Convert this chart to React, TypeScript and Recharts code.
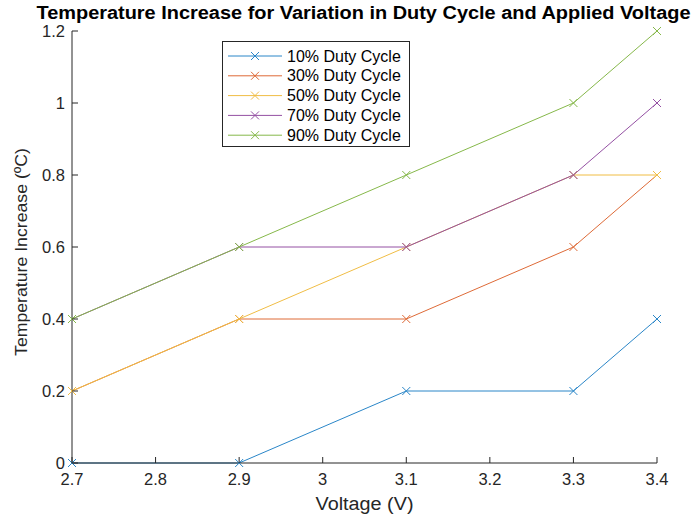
import { LineChart, Line, XAxis, YAxis, Legend } from "recharts";

const voltage = [2.7, 2.9, 3.1, 3.3, 3.4];
const duty10 = [0, 0, 0.2, 0.2, 0.4];
const duty30 = [0.2, 0.4, 0.4, 0.6, 0.8];
const duty50 = [0.2, 0.4, 0.6, 0.8, 0.8];
const duty70 = [0.4, 0.6, 0.6, 0.8, 1.0];
const duty90 = [0.4, 0.6, 0.8, 1.0, 1.2];

const xTicks = [2.7, 2.8, 2.9, 3, 3.1, 3.2, 3.3, 3.4];
const yTicks = [0, 0.2, 0.4, 0.6, 0.8, 1, 1.2];

const seriesNames = [
  "10% Duty Cycle",
  "30% Duty Cycle",
  "50% Duty Cycle",
  "70% Duty Cycle",
  "90% Duty Cycle",
];
// slightly lighter than MATLAB defaults to mimic the thin antialiased lines
const colors = ["#2a86c8", "#de6a37", "#f0bd45", "#9450a3", "#86b84a"];
const keys = ["d10", "d30", "d50", "d70", "d90"];

const data = voltage.map((v, i) => ({
  v,
  d10: duty10[i],
  d30: duty30[i],
  d50: duty50[i],
  d70: duty70[i],
  d90: duty90[i],
}));

const FONT = "'Liberation Sans', Arial, Helvetica, sans-serif";
const AXIS = "#262626";
const X_MARGIN = 10;
const Y_MARGIN = 7;
const TICK_FONT = 16.5;

const Cross = (props: any) => {
  const { cx, cy, stroke } = props;
  if (cx == null || cy == null) return null;
  const s = 4;
  return (
    <g>
      <line x1={cx - s} y1={cy - s} x2={cx + s} y2={cy + s} stroke={stroke} strokeWidth={1} />
      <line x1={cx - s} y1={cy + s} x2={cx + s} y2={cy - s} stroke={stroke} strokeWidth={1} />
    </g>
  );
};

const BottomTick = (props: any) => {
  const { x, y, payload } = props;
  const ay = y - X_MARGIN;
  return (
    <g>
      <line x1={x} y1={ay} x2={x} y2={ay - 6} stroke={AXIS} strokeWidth={1} />
      <text x={x} y={y} dy="0.71em" textAnchor="middle" fill={AXIS} fontSize={TICK_FONT} fontFamily={FONT}>
        {String(payload.value)}
      </text>
    </g>
  );
};

const LeftTick = (props: any) => {
  const { x, y, payload } = props;
  const ax = x + Y_MARGIN;
  return (
    <g>
      <line x1={ax} y1={y} x2={ax + 6} y2={y} stroke={AXIS} strokeWidth={1} />
      <text x={x} y={y} dy="0.355em" textAnchor="end" fill={AXIS} fontSize={TICK_FONT} fontFamily={FONT}>
        {String(payload.value)}
      </text>
    </g>
  );
};

const TopTick = (props: any) => {
  const { x, y } = props;
  return <line x1={x} y1={y} x2={x} y2={y + 6} stroke={AXIS} strokeWidth={1} />;
};

const RightTick = (props: any) => {
  const { x, y } = props;
  return <line x1={x} y1={y} x2={x - 6} y2={y} stroke={AXIS} strokeWidth={1} />;
};

const LegendBox = () => (
  <svg width={188} height={106} style={{ display: "block" }}>
    <rect x={0.5} y={0.5} width={187} height={105} fill="#fff" stroke={AXIS} strokeWidth={1} />
    {seriesNames.map((name, i) => {
      const cy = 15 + i * 19.8;
      return (
        <g key={name}>
          <line x1={6} y1={cy} x2={60} y2={cy} stroke={colors[i]} strokeWidth={1} />
          <Cross cx={33} cy={cy} stroke={colors[i]} />
          <text x={65} y={cy} dy="0.355em" fontSize={16} fontFamily={FONT} fill="#000">
            {name}
          </text>
        </g>
      );
    })}
  </svg>
);

export default function App() {
  return (
    <div style={{ position: "absolute", left: 0, top: 0, width: 694, height: 517, background: "#fff", overflow: "hidden" }}>
      <div
        style={{
          position: "absolute",
          left: 0,
          width: 727,
          top: 3,
          textAlign: "center",
          fontFamily: FONT,
          fontWeight: "bold",
          fontSize: 18,
          color: "#000",
          whiteSpace: "nowrap",
          transform: "scaleX(1.107)",
          transformOrigin: "363.5px 0",
        }}
      >
        Temperature Increase for Variation in Duty Cycle and Applied Voltage
      </div>
      <LineChart
        width={694}
        height={517}
        data={data}
        margin={{ top: 31, right: 37, bottom: 24, left: 32 }}
      >
        <XAxis
          dataKey="v"
          type="number"
          domain={[2.7, 3.4]}
          ticks={xTicks}
          tickSize={0}
          tickMargin={X_MARGIN}
          tick={<BottomTick />}
          height={30}
          stroke={AXIS}
          allowDecimals
        />
        <XAxis
          xAxisId="top"
          orientation="top"
          dataKey="v"
          type="number"
          domain={[2.7, 3.4]}
          ticks={xTicks}
          tickSize={0}
          tickMargin={0}
          tick={<TopTick />}
          height={0}
          stroke="#8a8a8a"
        />
        <YAxis
          type="number"
          domain={[0, 1.2]}
          ticks={yTicks}
          tickSize={0}
          tickMargin={Y_MARGIN}
          tick={<LeftTick />}
          width={40}
          stroke={AXIS}
        />
        <YAxis
          yAxisId="right"
          orientation="right"
          type="number"
          domain={[0, 1.2]}
          ticks={yTicks}
          tickSize={0}
          tickMargin={0}
          tick={<RightTick />}
          width={0}
          stroke={AXIS}
        />
        <Legend
          layout="vertical"
          align="center"
          verticalAlign="middle"
          content={<LegendBox />}
          wrapperStyle={{ left: 222, top: 41, width: 188, height: 106 }}
        />
        {keys.map((k, i) => (
          <Line
            key={k}
            dataKey={k}
            name={seriesNames[i]}
            stroke={colors[i]}
            strokeWidth={1}
            dot={<Cross />}
            activeDot={false}
            isAnimationActive={false}
          />
        ))}
      </LineChart>
      <div
        style={{
          position: "absolute",
          left: 0,
          width: 729,
          top: 494,
          textAlign: "center",
          fontFamily: FONT,
          fontSize: 18,
          color: AXIS,
          transform: "scaleX(1.1)",
          transformOrigin: "364.5px 0",
        }}
      >
        Voltage (V)
      </div>
      <div
        style={{
          position: "absolute",
          left: 22,
          top: 252,
          transform: "translate(-50%, -50%) rotate(-90deg) scaleX(1.04)",
          fontFamily: FONT,
          fontSize: 17,
          color: AXIS,
          whiteSpace: "nowrap",
        }}
      >
        Temperature Increase (ºC)
      </div>
    </div>
  );
}
